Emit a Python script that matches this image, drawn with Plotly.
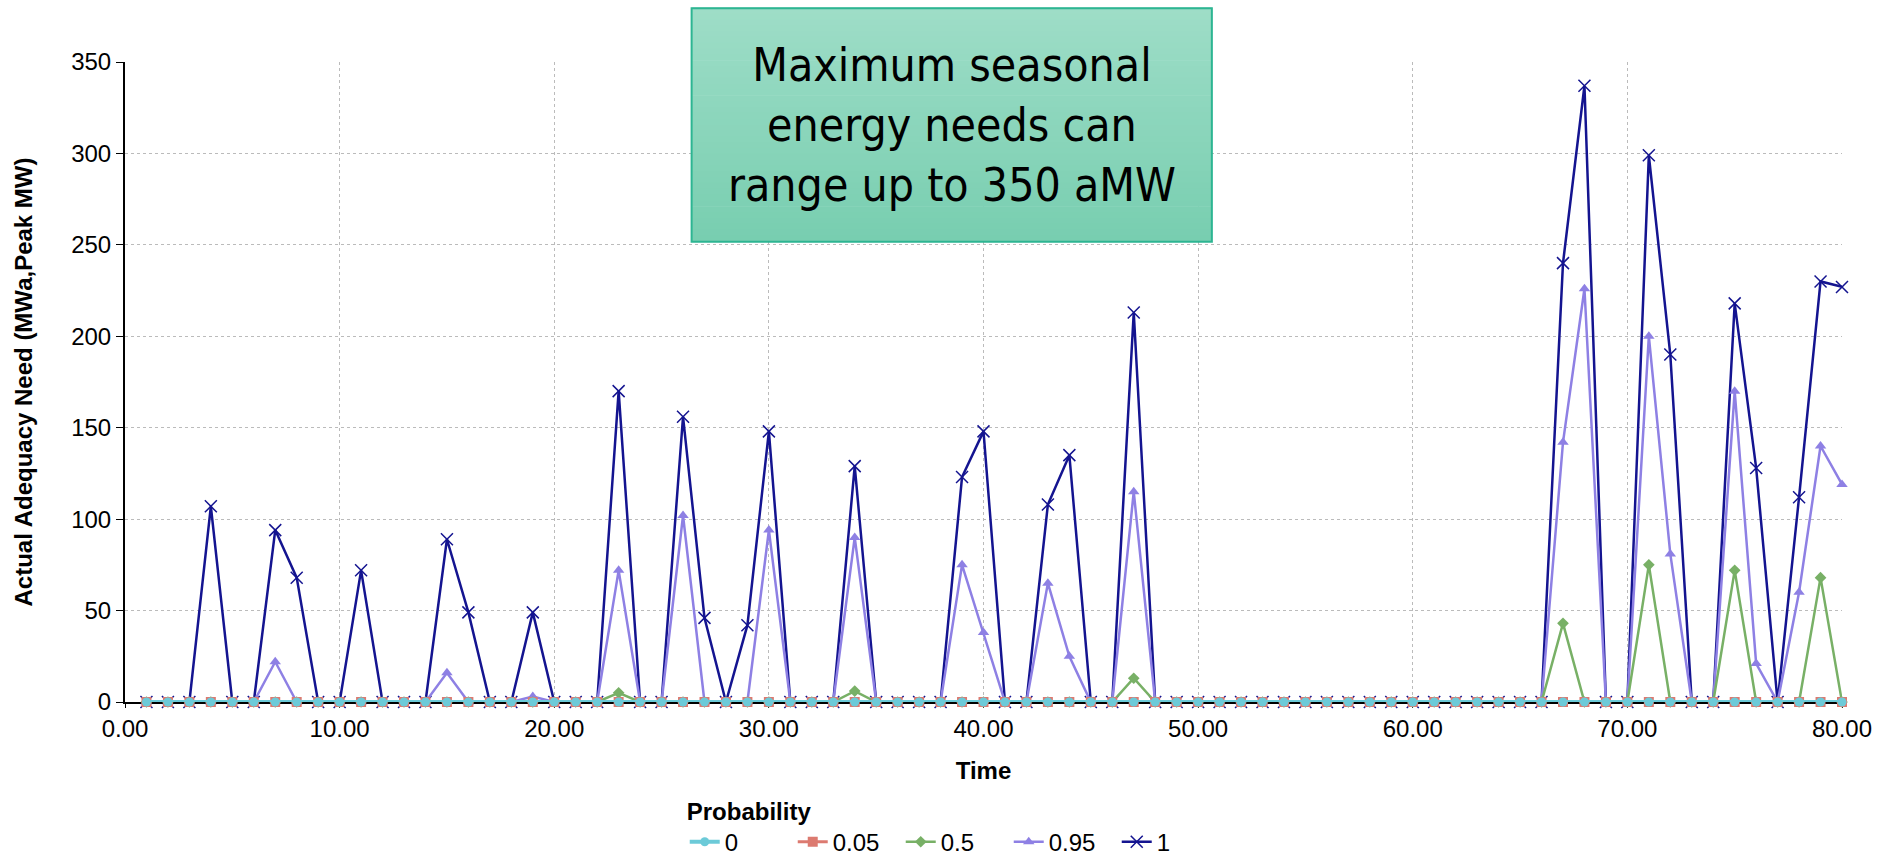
import plotly.graph_objects as go

time = list(range(1, 81))

p_0 = [0] * 80
p_005 = [0] * 80

p_05 = [0, 0, 0, 0, 0, 0, 0, 0, 0, 0,
        0, 0, 0, 0, 0, 0, 0, 0, 0, 0,
        0, 0, 5, 0, 0, 0, 0, 0, 0, 0,
        0, 0, 0, 6, 0, 0, 0, 0, 0, 0,
        0, 0, 0, 0, 0, 0, 13, 0, 0, 0,
        0, 0, 0, 0, 0, 0, 0, 0, 0, 0,
        0, 0, 0, 0, 0, 0, 43, 0, 0, 0,
        75, 0, 0, 0, 72, 0, 0, 0, 68, 0]

p_095 = [0, 0, 0, 0, 0, 0, 22, 0, 0, 0,
         0, 0, 0, 0, 16, 0, 0, 0, 3, 0,
         0, 0, 72, 0, 0, 102, 0, 0, 0, 94,
         0, 0, 0, 90, 0, 0, 0, 0, 75, 38,
         0, 0, 65, 25, 0, 0, 115, 0, 0, 0,
         0, 0, 0, 0, 0, 0, 0, 0, 0, 0,
         0, 0, 0, 0, 0, 0, 142, 226, 0, 0,
         200, 81, 0, 0, 170, 21, 0, 60, 140, 119]

p_1 = [0, 0, 0, 107, 0, 0, 94, 68, 0, 0,
       72, 0, 0, 0, 89, 49, 0, 0, 49, 0,
       0, 0, 170, 0, 0, 156, 46, 0, 42, 148,
       0, 0, 0, 129, 0, 0, 0, 0, 123, 148,
       0, 0, 108, 135, 0, 0, 213, 0, 0, 0,
       0, 0, 0, 0, 0, 0, 0, 0, 0, 0,
       0, 0, 0, 0, 0, 0, 240, 337, 0, 0,
       299, 190, 0, 0, 218, 128, 0, 112, 230, 227]

series = [
    ("1", p_1, "#141490", "x-thin", 12, 2.5),
    ("0.95", p_095, "#8E80E4", "triangle-up", 10, 2.5),
    ("0.5", p_05, "#78B066", "diamond", 9, 2.5),
    ("0.05", p_005, "#DC7A70", "square", 10, 3),
    ("0", p_0, "#6CCAD8", "circle", 9, 4),
]

fig = go.Figure()
for name, vals, color, sym, size, lw in series:
    marker = dict(symbol=sym, size=size, color=color)
    if sym == "x-thin":
        marker["line"] = dict(color=color, width=1.5)
    fig.add_trace(go.Scatter(
        x=time, y=vals, name=name, mode="lines+markers",
        line=dict(color=color, width=lw), marker=marker,
        cliponaxis=False,
    ))

font_family = "Liberation Sans, Arial, sans-serif"

fig.update_layout(
    width=1883, height=857,
    margin=dict(l=125, r=41, t=62, b=155, autoexpand=False),
    paper_bgcolor="white", plot_bgcolor="white",
    font=dict(family=font_family, size=24, color="black"),
    showlegend=True,
    legend=dict(
        orientation="h", xref="paper", x=0.326, xanchor="left",
        yref="container", y=0.080, yanchor="top",
        title=dict(text="<b>Probability</b>", side="top",
                   font=dict(size=24)),
        traceorder="reversed", font=dict(size=24),
        entrywidth=63, entrywidthmode="pixels",
    ),
    xaxis=dict(
        range=[0, 80], dtick=10, tickformat=".2f",
        showgrid=True, gridcolor="#BBBBBB", griddash="dot", gridwidth=1,
        showline=True, linecolor="black", linewidth=1.5,
        ticks="outside", ticklen=4, tickcolor="black",
        zeroline=False, layer="below traces",
        title=dict(text="<b>Time</b>", font=dict(size=24), standoff=22),
    ),
    yaxis=dict(
        range=[0, 350], dtick=50,
        showgrid=True, gridcolor="#BBBBBB", griddash="dot", gridwidth=1,
        showline=True, linecolor="black", linewidth=2,
        ticks="outside", ticklen=7, tickcolor="black",
        zeroline=False, layer="below traces",
        title=dict(text="<b>Actual Adequacy Need (MWa,Peak MW)</b>",
                   font=dict(size=24), standoff=32),
    ),
)

# Gradient call-out box (stacked bands)
x0, x1 = 0.330, 0.633
y_top, y_bot = 1.084, 0.719
n = 40
c_top = (158, 221, 199)
c_bot = (120, 206, 176)
for i in range(n):
    f = i / (n - 1)
    c = tuple(round(c_top[k] + (c_bot[k] - c_top[k]) * f) for k in range(3))
    ya = y_top - (y_top - y_bot) * i / n
    yb = y_top - (y_top - y_bot) * (i + 1) / n
    fig.add_shape(type="rect", xref="paper", yref="paper",
                  x0=x0, x1=x1, y0=yb, y1=ya + 0.001,
                  fillcolor="rgb(%d,%d,%d)" % c, line=dict(width=0),
                  layer="above")
fig.add_shape(type="rect", xref="paper", yref="paper",
              x0=x0, x1=x1, y0=y_bot, y1=y_top,
              fillcolor="rgba(0,0,0,0)", line=dict(color="#2DB592", width=2),
              layer="above")
fig.add_annotation(
    xref="paper", yref="paper", x=(x0 + x1) / 2, y=(y_top + y_bot) / 2,
    xanchor="center", yanchor="middle",
    text="Maximum seasonal<br>energy needs can<br>range up to 350 aMW",
    showarrow=False, align="center",
    font=dict(family="DejaVu Sans Condensed, Open Sans, sans-serif",
              size=46, color="black"),
)

fig.write_html(
    "out.html",
    config={"displayModeBar": False},
    post_script="document.body.style.margin='0';"
                "document.body.style.overflow='hidden';",
)
